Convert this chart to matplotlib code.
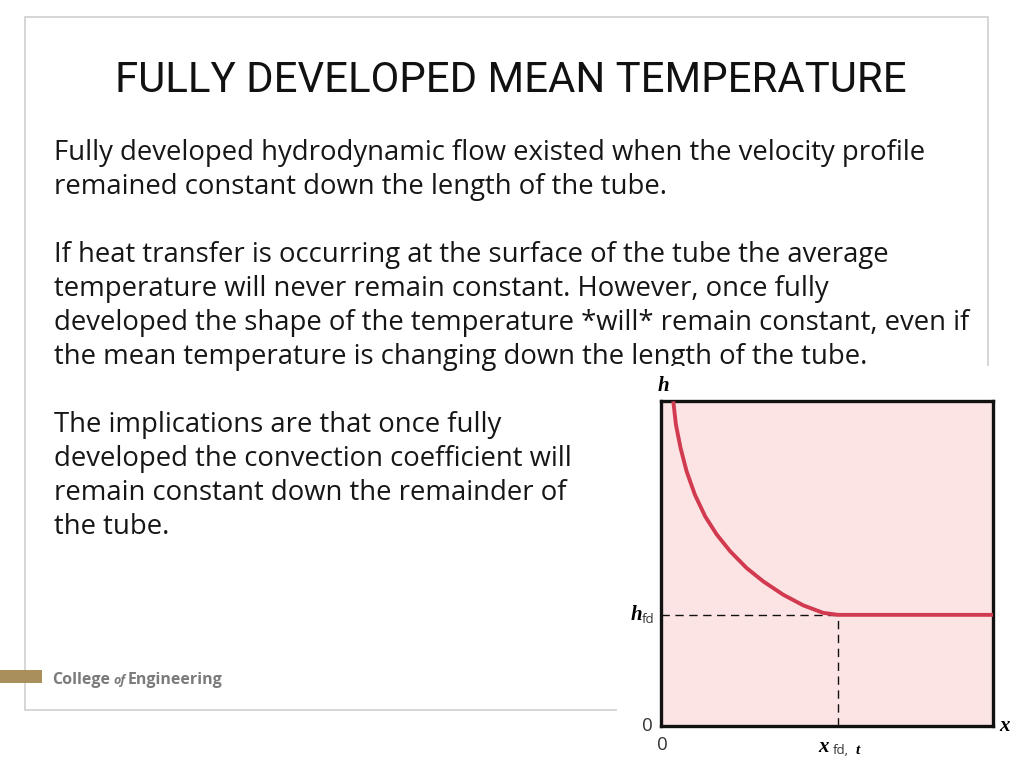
import matplotlib
matplotlib.use('Agg')
import matplotlib.pyplot as plt
from matplotlib.patches import Rectangle

# slide text
title = 'FULLY DEVELOPED MEAN TEMPERATURE'
paragraphs = [
    ['Fully developed hydrodynamic flow existed when the velocity profile',
     'remained constant down the length of the tube.'],
    ['If heat transfer is occurring at the surface of the tube the average',
     'temperature will never remain constant. However, once fully',
     'developed the shape of the temperature *will* remain constant, even if',
     'the mean temperature is changing down the length of the tube.'],
    ['The implications are that once fully',
     'developed the convection coefficient will',
     'remain constant down the remainder of',
     'the tube.'],
]

# h(x) curve (x, h in axes units 0..1)
x_curve = [0.037, 0.045, 0.059, 0.077, 0.102, 0.133, 0.168, 0.208, 0.258,
           0.308, 0.368, 0.429, 0.489, 0.533, 1.0]
h_curve = [0.999, 0.927, 0.855, 0.784, 0.712, 0.645, 0.589, 0.538, 0.486,
           0.445, 0.404, 0.371, 0.348, 0.342, 0.342]
x_fd = 0.533
h_fd = 0.342

W, H = 1024, 768
def fx(px):
    return px / W
def fy(py):
    return 1 - py / H

fig = plt.figure(figsize=(10.24, 7.68), dpi=100)
fig.patch.set_facecolor('white')

# slide border
fig.patches.append(Rectangle((fx(25), fy(710)), fx(988) - fx(25), fy(17) - fy(710),
                             transform=fig.transFigure, fill=False,
                             edgecolor='#cfcfcf', lw=1.2, zorder=0))

fig.text(fx(511), fy(80), title, ha='center', va='center', fontsize=30.2,
         family=['Roboto', 'DejaVu Sans'], color='#111111')

body_font = ['Open Sans', 'DejaVu Sans']
baseline = 160
for para in paragraphs:
    for line in para:
        fig.text(fx(54), fy(baseline), line, ha='left', va='baseline',
                 fontsize=19.8, family=body_font, color='#161616')
        baseline += 34
    baseline += 34

# white area behind the picture hides the bottom of the text and the border
fig.patches.append(Rectangle((fx(617), 0), 1 - fx(617), fy(366),
                             transform=fig.transFigure, facecolor='white',
                             edgecolor='none', zorder=5))

# college logo
fig.patches.append(Rectangle((0, fy(683)), fx(42), fy(670) - fy(683),
                             transform=fig.transFigure, facecolor='#a98f5c',
                             edgecolor='none', zorder=2))
fig.text(fx(52), fy(684), 'College', fontsize=11.5, weight='bold',
         family=body_font, color='#7b7b7b', va='baseline')
fig.text(fx(113), fy(684), 'of', fontsize=9, style='italic', weight='bold',
         family=body_font, color='#7b7b7b', va='baseline')
fig.text(fx(128), fy(684), 'Engineering', fontsize=11.5, weight='bold',
         family=body_font, color='#7b7b7b', va='baseline')

# h vs x figure
ax = fig.add_axes([fx(661), fy(726), (993 - 661) / W, (726 - 401) / H], zorder=6)
ax.set_facecolor('#fbe4e3')
ax.set_xlim(0, 1)
ax.set_ylim(0, 1)
ax.set_xticks([])
ax.set_yticks([])
for s in ax.spines.values():
    s.set_linewidth(2.4)
    s.set_color('#111111')

ax.plot([0, x_fd], [h_fd, h_fd], color='#111111', lw=1.0, dashes=(6, 4))
ax.plot([x_fd, x_fd], [0, h_fd], color='#111111', lw=1.0, dashes=(6, 4))
ax.plot(x_curve, h_curve, color='#d23a50', lw=2.8, solid_capstyle='butt',
        solid_joinstyle='round', zorder=3)

serif = ['Liberation Serif', 'DejaVu Serif']
ax.text(-0.01, 1.015, 'h', transform=ax.transAxes, fontsize=15, family=serif,
        style='italic', weight='bold', ha='left', va='bottom', clip_on=False)
ax.text(-0.092, h_fd, 'h', transform=ax.transAxes, fontsize=15, family=serif,
        style='italic', weight='bold', ha='left', va='center', clip_on=False)
ax.text(-0.057, h_fd - 0.015, 'fd', transform=ax.transAxes, fontsize=9.5,
        family=body_font, color='#333333', ha='left', va='center', clip_on=False)
ax.text(-0.025, 0.0, '0', transform=ax.transAxes, fontsize=13.5,
        family=body_font, color='#333333', ha='right', va='center', clip_on=False)
ax.text(0.003, -0.06, '0', transform=ax.transAxes, fontsize=13.5,
        family=body_font, color='#333333', ha='center', va='center', clip_on=False)
ax.text(1.018, 0.0, 'x', transform=ax.transAxes, fontsize=15, family=serif,
        style='italic', weight='bold', ha='left', va='center', clip_on=False)
ax.text(0.473, -0.065, 'x', transform=ax.transAxes, fontsize=15, family=serif,
        style='italic', weight='bold', ha='left', va='center', clip_on=False)
ax.text(0.518, -0.075, 'fd,', transform=ax.transAxes, fontsize=9.5,
        family=body_font, color='#333333', ha='left', va='center', clip_on=False)
ax.text(0.585, -0.075, 't', transform=ax.transAxes, fontsize=11, family=serif,
        style='italic', weight='bold', ha='left', va='center', clip_on=False)

fig.savefig('out.png', dpi=100)
